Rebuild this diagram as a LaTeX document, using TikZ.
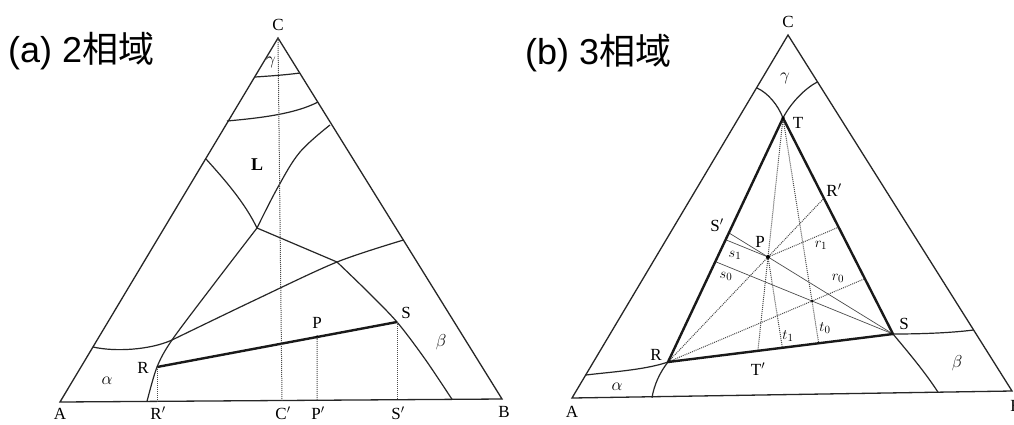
\documentclass[tikz,border=0pt]{standalone}
\usepackage{fontspec}
\setmainfont{Liberation Serif}
\newfontfamily\titlefont{Liberation Sans}
\newfontfamily\cjk{Noto Sans CJK JP}
\usetikzlibrary{calc}
\begin{document}
\begin{tikzpicture}[x=1pt,y=-1pt,
  edge/.style={line width=1.3pt, draw=black!85},
  bound/.style={line width=1.2pt, draw=black!85},
  thickline/.style={line width=2.4pt, draw=black!90},
  dotline/.style={line width=1.0pt, draw=black!70, dash pattern=on 1pt off 1pt},
  thinline/.style={line width=0.7pt, draw=black!70},
  lbl/.style={font=\fontsize{17}{17}\selectfont, inner sep=0pt},
  sub/.style={font=\fontsize{15}{15}\selectfont, inner sep=0pt},
  title/.style={font=\fontsize{36}{36}\selectfont\titlefont, inner sep=0pt, anchor=base west},
  ptdot/.style={circle, fill=black, inner sep=0pt, minimum size=3.5pt}
]
\fill[white] (0,0) rectangle (1014,424);
\useasboundingbox (0,0) rectangle (1014,424);

% ---------------- (a) ----------------
\node[title] (ta) at (8,62) {(a) 2{\cjk 相域}};
\coordinate (A1) at (60,402);
\coordinate (B1) at (502,399);
\coordinate (C1) at (278,38);
\draw[edge] (A1) -- (B1) -- (C1) -- cycle;

\coordinate (g1) at (255,77);
\coordinate (g2) at (300,73);
\draw[bound] (g1) .. controls (270,76) and (285,75) .. (g2);
\coordinate (h1) at (227,121);
\coordinate (h2) at (318,102);
\draw[bound] (h1) .. controls (260,118) and (295,114) .. (h2);

\coordinate (J) at (257,228);
\coordinate (L1) at (206,159);
\coordinate (L2) at (330,125);
\coordinate (K) at (172,340);
\coordinate (Q) at (337,262);
\coordinate (E1) at (403.5,240);
\draw[bound] (L1) .. controls (225,180) and (245,203) .. (J);
\draw[bound] plot[smooth, tension=0.6] coordinates {(330,125) (300,152) (278,187) (257,228)};
\draw[bound] plot[smooth, tension=0.5] coordinates {(257,228) (214,284) (172,340) (157,367) (147,401.4)};
\draw[bound] (J) -- (Q);
\draw[bound] plot[smooth, tension=0.5] coordinates {(337,262) (367,291) (397,322) (425,359) (452,399.3)};
\draw[bound] plot[smooth, tension=0.5] coordinates {(172,340) (255,300) (337,262) (403.5,240)};
\draw[bound] (93,347) .. controls (115,352) and (150,350) .. (K);

\coordinate (R1) at (157,367);
\coordinate (S1) at (397,322);
\coordinate (P1) at ($(R1)!0.6667!(S1)$);
\draw[thickline] (R1) -- (S1);
\node[ptdot, minimum size=3.5pt] (P1d) at (P1) {};

\coordinate (Cb) at (282,400.5);
\coordinate (Rb) at (157,401.3);
\coordinate (Pb) at (317,400.3);
\coordinate (Sb) at (397,399.7);
\draw[dotline] (C1) -- (Cb);
\draw[dotline] (R1) -- (Rb);
\draw[dotline] (P1) -- (Pb);
\draw[dotline] (S1) -- (Sb);

\node[lbl] (lC1) at (278,25) {C};
\node[lbl, font=\fontsize{18}{18}\selectfont\bfseries] (lL) at (257,165) {L};
\node[lbl] (lg1) at (271,62) {$\gamma$};
\node[lbl] (la1) at (107,381) {$\alpha$};
\node[lbl] (lb1) at (441,342) {$\beta$};
\node[lbl] (lR1) at (143,368) {R};
\node[lbl] (lP1) at (317,323) {P};
\node[lbl] (lS1) at (406,313) {S};
\node[lbl] (lA1) at (60,414) {A};
\node[lbl] (lRp) at (158,413) {R$'$};
\node[lbl] (lCp) at (283,413) {C$'$};
\node[lbl] (lPp) at (318,413) {P$'$};
\node[lbl] (lSp) at (398,413) {S$'$};
\node[lbl] (lB1) at (504,412) {B};

% ---------------- (b) ----------------
\node[title] (tb) at (525,64) {(b) 3{\cjk 相域}};
\coordinate (A2) at (572,398);
\coordinate (B2) at (1012,391);
\coordinate (C2) at (788,35);
\draw[edge] (A2) -- (B2) -- (C2) -- cycle;

\coordinate (T) at (783,118);
\coordinate (R) at (668,362);
\coordinate (S) at (893,334);
\coordinate (P) at (768,257);
\coordinate (P0) at (812,301);

\draw[bound] (757,88) .. controls (768,93) and (778,105) .. (T);
\draw[bound] (817.5,82) .. controls (805,88) and (790,104) .. (T);
\draw[bound] (586,375) .. controls (610,372) and (645,370) .. (R);
\draw[bound] (R) .. controls (660,372) and (654,385) .. (652,397.7);
\draw[bound] (S) .. controls (920,334) and (950,333) .. (973.5,330);
\draw[bound] (S) .. controls (908,352) and (925,372) .. (938,392.2);

% construction lines
\coordinate (Rq) at (intersection of R--P and T--S);
\coordinate (Sq) at (intersection of S--P and T--R);
\coordinate (Tq) at (intersection of T--P and R--S);
\coordinate (r0) at (intersection of R--P0 and T--S);
\coordinate (s0) at (intersection of S--P0 and T--R);
\coordinate (t0) at (intersection of T--P0 and R--S);
\coordinate (Pr) at ($(P)+(P0)-(R)$);
\coordinate (Ps) at ($(P)+(P0)-(S)$);
\coordinate (Pt) at ($(P)+(P0)-(T)$);
\coordinate (r1) at (intersection of P--Pr and T--S);
\coordinate (s1) at (intersection of P--Ps and T--R);
\coordinate (t1) at (intersection of P--Pt and R--S);

\draw[dotline] (R) -- (Rq);
\draw[dotline] (R) -- (r0);
\draw[dotline] (T) -- (Tq);
\draw[dotline] (T) -- (t0);
\draw[thinline] (S) -- (Sq);
\draw[thinline] (S) -- (s0);
\draw[dotline] (P) -- (r1);
\draw[thinline] (P) -- (s1);
\draw[dotline] (P) -- (t1);

\draw[thickline, line join=round] (T) -- (R) -- (S) -- cycle;
\node[ptdot, minimum size=4pt] (Pd) at (P) {};
\node[ptdot, minimum size=2.5pt] (P0d) at (P0) {};
\node[ptdot, minimum size=3.5pt] (Td) at (T) {};

\node[lbl] (lC2) at (788,22) {C};
\node[lbl] (lg2) at (785,78) {$\gamma$};
\node[lbl] (lT) at (798,123) {T};
\node[lbl] (lRq) at (834,190) {R$'$};
\node[lbl] (lSq) at (717,225) {S$'$};
\node[lbl] (lP) at (760,242) {P};
\node[sub] (ls1) at (735,255) {$s_1$};
\node[sub] (ls0) at (726,276) {$s_0$};
\node[sub] (lr1) at (821,245) {$r_1$};
\node[sub] (lr0) at (838,278) {$r_0$};
\node[sub] (lt1) at (788,336) {$t_1$};
\node[sub] (lt0) at (825,328) {$t_0$};
\node[lbl] (lR) at (656,355) {R};
\node[lbl] (lS) at (904,324) {S};
\node[lbl] (lTq) at (758,369) {T$'$};
\node[lbl] (la2) at (617,387) {$\alpha$};
\node[lbl] (lb2) at (957,363) {$\beta$};
\node[lbl] (lA2) at (572,412) {A};
\node[lbl] (lB2) at (1016,406) {B};
\end{tikzpicture}
\end{document}
